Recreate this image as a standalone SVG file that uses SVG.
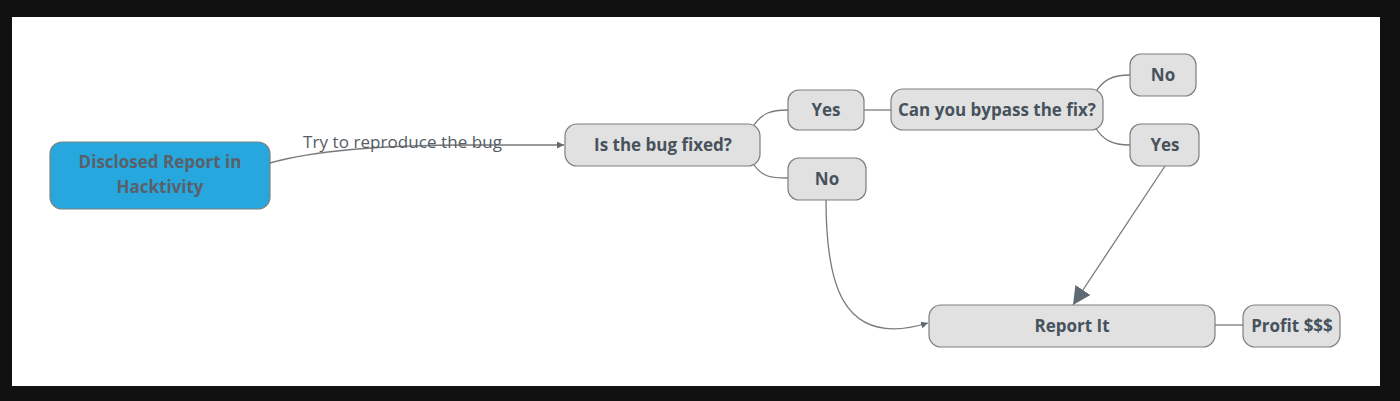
<svg xmlns="http://www.w3.org/2000/svg" width="1400" height="401" viewBox="0 0 1400 401">
<style>
.node rect{fill:#e1e1e1;stroke:#7f7f7f;stroke-width:1.2}
.node text{font-family:"Open Sans","Noto Sans",sans-serif;font-weight:bold;font-size:17px;fill:#47525c;text-anchor:middle}
#n-disclosed rect{fill:#26a8df}
#n-disclosed text{fill:#5a6068}
.conn path,.conn line{fill:none;stroke:#7a7a7a;stroke-width:1.3}
.lbl{font-family:"Open Sans","Noto Sans",sans-serif;font-size:17px;fill:#555d64}
</style>
<defs>
<marker id="arr" viewBox="0 0 10 10" refX="10" refY="5" markerWidth="7" markerHeight="7" orient="auto" markerUnits="userSpaceOnUse">
<path d="M0,0 L10,5 L0,10 z" fill="#5f6a72"/>
</marker>
<marker id="arrBig" viewBox="0 0 10 10" refX="10" refY="5" markerWidth="18" markerHeight="18" orient="auto" markerUnits="userSpaceOnUse">
<path d="M0,0 L10,5 L0,10 z" fill="#5f6a72"/>
</marker>
</defs>
<rect x="0" y="0" width="1400" height="401" fill="#111111"/>
<rect x="12" y="17" width="1368" height="369" fill="#ffffff"/>
<g class="conn">
<path d="M270,163 C330,146 420,145 470,145 L564,145" marker-end="url(#arr)"/>
<path d="M752,128 C762,112 772,110 788,110"/>
<path d="M752,162 C762,178 772,178 788,178"/>
<line x1="864" y1="110" x2="891" y2="110"/>
<path d="M1095,93 C1103,80 1112,75 1130,75"/>
<path d="M1095,127 C1103,140 1112,145 1130,145"/>
<line x1="1165" y1="166" x2="1073" y2="305" marker-end="url(#arrBig)"/>
<path d="M826,200 C826,280 840,350 928,323" marker-end="url(#arr)"/>
<line x1="1215" y1="325" x2="1243" y2="325"/>
<text class="lbl" x="303" y="148" textLength="199">Try to reproduce the bug</text>
</g>
<g id="n-disclosed" class="node"><rect x="50" y="142" width="220" height="67" rx="12"/><text x="160" y="168">Disclosed Report in</text><text x="160" y="193">Hacktivity</text></g>
<g id="n-fixed" class="node"><rect x="565" y="124" width="195" height="42" rx="12"/><text x="663" y="151">Is the bug fixed?</text></g>
<g id="n-yes1" class="node"><rect x="788" y="90" width="76" height="40" rx="11"/><text x="826" y="116">Yes</text></g>
<g id="n-no1" class="node"><rect x="788" y="158" width="78" height="42" rx="11"/><text x="827" y="185">No</text></g>
<g id="n-bypass" class="node"><rect x="891" y="89" width="212" height="41" rx="12"/><text x="997" y="116">Can you bypass the fix?</text></g>
<g id="n-no2" class="node"><rect x="1130" y="54" width="66" height="42" rx="11"/><text x="1163" y="81">No</text></g>
<g id="n-yes2" class="node"><rect x="1130" y="124" width="69" height="42" rx="11"/><text x="1165" y="151">Yes</text></g>
<g id="n-report" class="node"><rect x="929" y="305" width="286" height="42" rx="12"/><text x="1072" y="332">Report It</text></g>
<g id="n-profit" class="node"><rect x="1243" y="305" width="97" height="42" rx="12"/><text x="1292" y="332">Profit $$$</text></g>
</svg>
